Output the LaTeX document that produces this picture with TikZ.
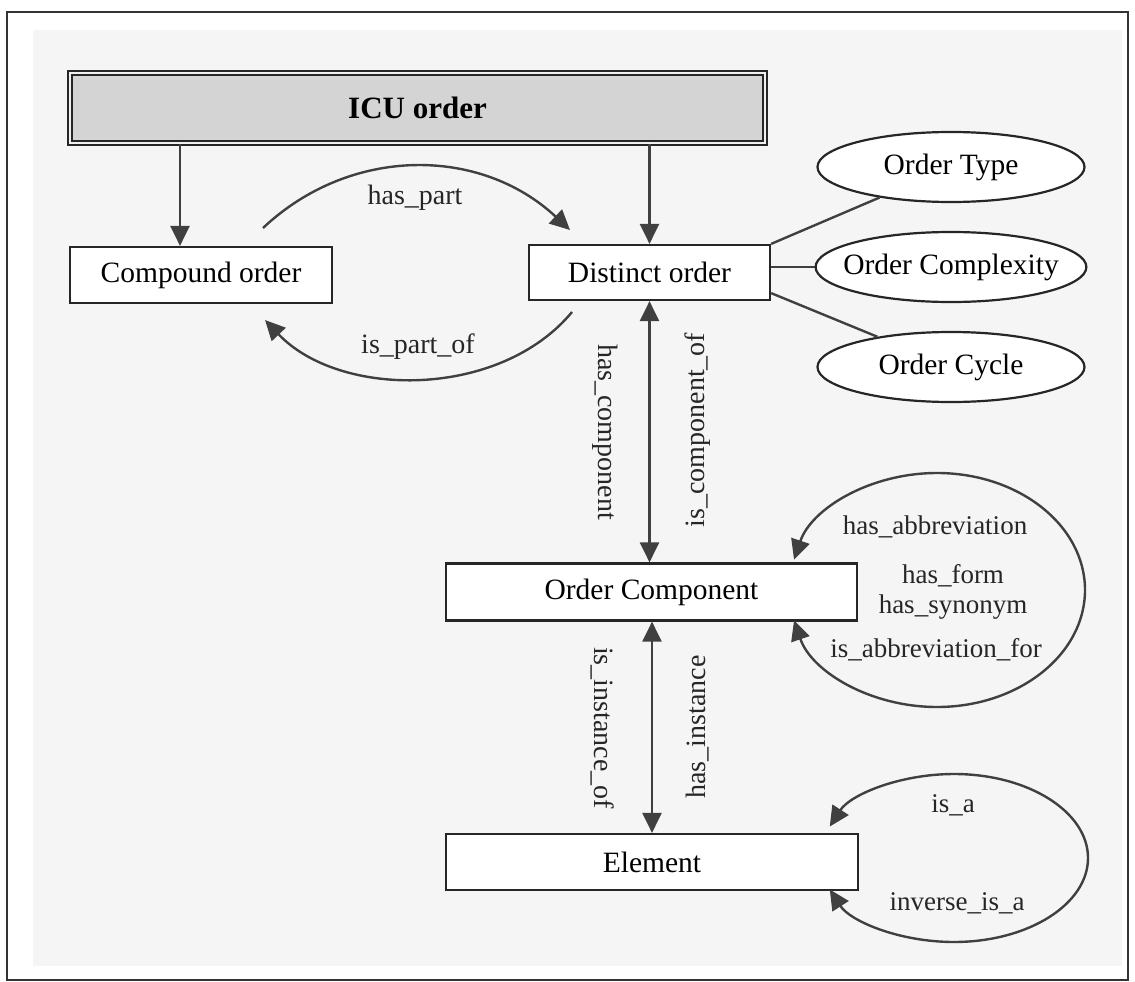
\documentclass[tikz,border=0pt]{standalone}
\usepackage{fontspec}
\setmainfont{Liberation Serif}
\usetikzlibrary{arrows.meta,shapes.geometric,calc}
\begin{document}
\begin{tikzpicture}[x=1pt,y=-1pt,
  box/.style={draw=black!85,line width=2.2pt,fill=white,inner sep=0pt,font=\fontsize{29.5}{34}\selectfont},
  oval/.style={ellipse,draw=black!85,line width=2.2pt,fill=white,minimum width=267pt,minimum height=70pt,inner xsep=-12pt,inner ysep=6pt,font=\fontsize{29.5}{34}\selectfont},
  conn/.style={draw=black!75,line width=2.4pt},
  arr/.style={conn,-{Triangle[length=20pt,width=19pt]}},
  darr/.style={conn,{Triangle[length=20pt,width=19pt]}-{Triangle[length=20pt,width=19pt]}},
  lbl/.style={font=\fontsize{28}{32}\selectfont,text=black!85,inner sep=0pt},
  lbls/.style={font=\fontsize{27}{31}\selectfont,text=black!85,inner sep=0pt}]

\useasboundingbox (0,0) rectangle (1135,982);
\fill[white] (0,0) rectangle (1135,982);
\fill[black!4] (33,30) rectangle (1122,966);
\draw[black!80,line width=2.2pt] (7,12) rectangle (1128,980);

% nodes
\node[box,minimum width=695pt,minimum height=70pt,fill=black!17,line width=1.5pt,double=black!6,double distance=2.5pt,font=\fontsize{31}{36}\selectfont\bfseries] (icu) at (417.5,108) {ICU order};
\node[box,minimum width=262pt,minimum height=56pt] (comp) at (201,275) {Compound order};
\node[box,minimum width=241pt,minimum height=55pt] (dist) at (649.5,272.5) {Distinct order};
\node[box,minimum width=411pt,minimum height=57pt] (oc) at (651.5,592) {Order Component};
\node[box,minimum width=412pt,minimum height=56pt] (el) at (652,862) {Element};
\node[oval] (otype) at (951,167) {Order Type};
\node[oval] (ocomp) at (951,267) {Order Complexity};
\node[oval] (ocyc) at (951,367) {Order Cycle};

% hierarchy arrows
\coordinate (ca) at ([xshift=-21pt]comp.north);
\draw[arr] (ca |- icu.south) -- (ca);
\draw[arr] (dist.north |- icu.south) -- (dist.north);

% distinct order attributes
\draw[conn] (dist.north east) -- (otype);
\draw[conn] (dist.east |- ocomp) -- (ocomp.west);
\coordinate (dse) at ([yshift=8pt]dist.south east);
\draw[conn] (dse) -- (ocyc);

% has_part / is_part_of
\coordinate (hpA) at (263,228);
\coordinate (hpB) at (570,230);
\draw[arr] (hpA) .. controls (350,146) and (480,146) .. (hpB);
\node[lbl] (hpl) at (415,198) {has\_part};
\coordinate (ipA) at (572,312);
\coordinate (ipB) at (265,320);
\draw[arr] (ipA) .. controls (500,399) and (340,399) .. (ipB);
\node[lbl] (ipl) at (418,347) {is\_part\_of};

% component relation
\draw[darr] (dist.south) -- (dist.south |- oc.north);
\node[lbl,rotate=-90] (hcl) at (605,432) {has\_component};
\node[lbl,rotate=90] (icl) at (698,430) {is\_component\_of};

% instance relation
\draw[darr] (el.north |- oc.south) -- (el.north);
\node[lbl,rotate=-90] (iil) at (603,728) {is\_instance\_of};
\node[lbl,rotate=90] (hil) at (698,727) {has\_instance};

% self loop on Order Component
\coordinate (l1) at (1085,590);
\draw[arr] (l1) arc[start angle=0,end angle=-165,x radius=148,y radius=117];
\draw[arr] (l1) arc[start angle=0,end angle=165,x radius=148,y radius=117];
\node[lbls] (la1) at (935,527) {has\_abbreviation};
\node[lbls] (la2) at (953,576) {has\_form};
\node[lbls] (la3) at (953,607) {has\_synonym};
\node[lbls] (la4) at (936,650) {is\_abbreviation\_for};

% self loop on Element
\coordinate (l2) at (1088,858);
\draw[arr] (l2) arc[start angle=0,end angle=-158,x radius=134,y radius=84];
\draw[arr] (l2) arc[start angle=0,end angle=158,x radius=134,y radius=84];
\node[lbls] (lb1) at (953,805) {is\_a};
\node[lbls] (lb2) at (957,903) {inverse\_is\_a};
\end{tikzpicture}
\end{document}
